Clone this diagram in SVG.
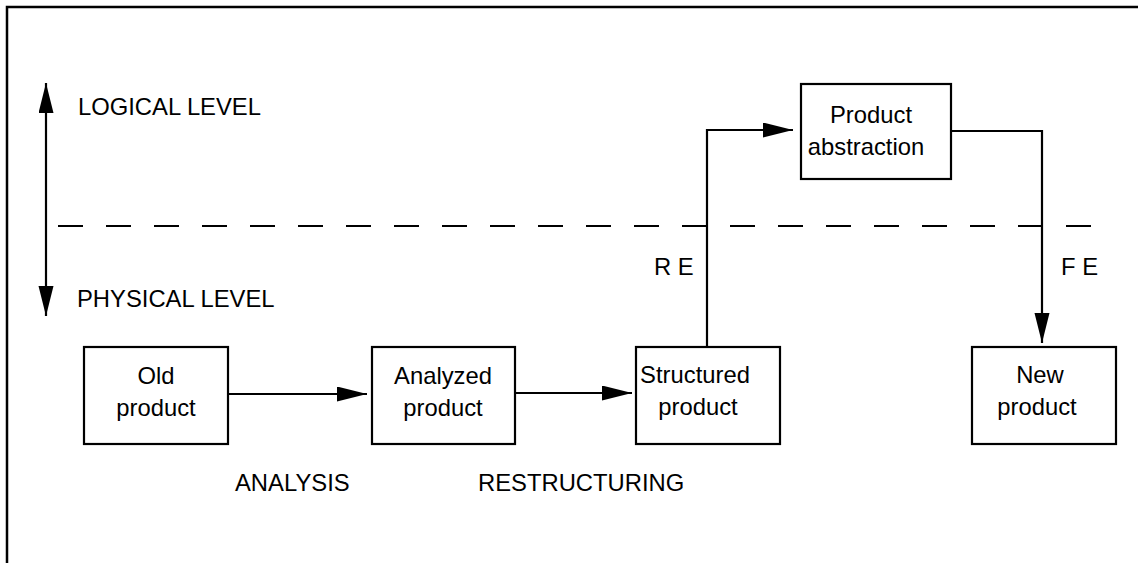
<svg xmlns="http://www.w3.org/2000/svg" width="1138" height="563" viewBox="0 0 1138 563">
<style>
.box{fill:#fff;stroke:#000;stroke-width:2.2}
.ln{fill:none;stroke:#000;stroke-width:2.2}
text{font-family:"Liberation Sans",Arial,sans-serif;font-size:23.8px;fill:#000}
.c{text-anchor:middle}
</style>
<defs>
<marker id="ah" markerUnits="userSpaceOnUse" markerWidth="32" markerHeight="16" refX="30" refY="7.5" orient="auto-start-reverse">
<path d="M0,0 L30,7.5 L0,15 z" fill="#000"/>
</marker>
</defs>
<rect width="1138" height="563" fill="#fff"/>
<path d="M7,563 V7 H1138" fill="none" stroke="#000" stroke-width="2.5"/>
<path d="M58,226 H1092" fill="none" stroke="#000" stroke-width="2" stroke-dasharray="25 23"/>
<g id="levels">
<path class="ln" d="M46,83 V316" marker-start="url(#ah)" marker-end="url(#ah)"/>
<text x="78" y="115">LOGICAL LEVEL</text>
<text x="77" y="307">PHYSICAL LEVEL</text>
</g>
<g id="connectors">
<path class="ln" d="M228,394 H367" marker-end="url(#ah)"/>
<path class="ln" d="M515,393 H632" marker-end="url(#ah)"/>
<path class="ln" d="M707,347 V130 H793" marker-end="url(#ah)"/>
<path class="ln" d="M951,131 H1042 V343" marker-end="url(#ah)"/>
<text x="654" y="275">R E</text>
<text x="1061" y="275">F E</text>
<text x="235" y="491">ANALYSIS</text>
<text x="478" y="491">RESTRUCTURING</text>
</g>
<g id="old">
<rect class="box" x="84" y="347" width="144" height="97"/>
<text class="c" x="156" y="384">Old</text>
<text class="c" x="156" y="416">product</text>
</g>
<g id="analyzed">
<rect class="box" x="372" y="347" width="143" height="97"/>
<text class="c" x="443" y="384">Analyzed</text>
<text class="c" x="443" y="416">product</text>
</g>
<g id="structured">
<rect class="box" x="636" y="347" width="144" height="97"/>
<text class="c" x="695" y="383">Structured</text>
<text class="c" x="698" y="415">product</text>
</g>
<g id="abstraction">
<rect class="box" x="801" y="84" width="150" height="95"/>
<text class="c" x="871" y="123">Product</text>
<text class="c" x="866" y="155">abstraction</text>
</g>
<g id="new">
<rect class="box" x="972" y="347" width="144" height="97"/>
<text class="c" x="1040" y="383">New</text>
<text class="c" x="1037" y="415">product</text>
</g>
</svg>
